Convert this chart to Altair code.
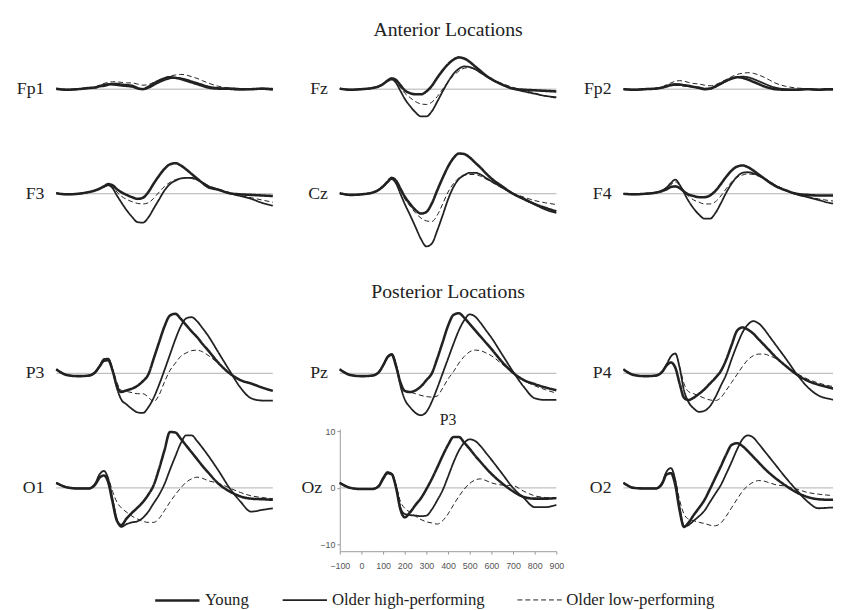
import altair as alt
import pandas as pd

# time points (ms)
T = [-100, -50, 0, 50, 80, 100, 120, 140, 160, 180, 200, 225, 250, 275, 300, 325,
     350, 375, 400, 425, 450, 475, 500, 525, 550, 575, 600, 650, 700, 750, 800, 850, 900]

GROUPS = ["Young", "Older high-performing", "Older low-performing"]

# ---- Anterior locations (µV) ----
FP1_Y = [0.1, -0.1, 0.0, 0.2, 0.3, 0.5, 0.6, 0.8, 0.9, 0.9, 0.8, 0.7, 0.6, 0.2, 0.0, 0.4, 1.0, 1.5, 1.9, 2.1, 2.0, 1.8, 1.5, 1.2, 0.9, 0.6, 0.3, 0.1, 0.1, 0.0, 0.0, 0.1, 0.0]
FP1_OH = [0.0, -0.1, 0.0, 0.2, 0.3, 0.6, 0.8, 0.9, 0.8, 0.7, 0.6, 0.5, 0.4, 0.1, 0.0, 0.2, 0.7, 1.2, 1.6, 1.9, 2.0, 1.9, 1.7, 1.4, 1.1, 0.8, 0.5, 0.2, 0.0, -0.1, 0.0, 0.0, -0.1]
FP1_OL = [0.0, -0.1, 0.1, 0.2, 0.4, 0.7, 1.0, 1.2, 1.3, 1.3, 1.2, 1.1, 1.1, 0.9, 0.7, 0.8, 1.2, 1.6, 2.0, 2.3, 2.5, 2.6, 2.5, 2.2, 1.9, 1.5, 1.1, 0.5, 0.2, 0.1, 0.0, 0.0, 0.1]

FZ_Y = [0.1, -0.1, 0.0, 0.2, 0.5, 0.9, 1.5, 1.9, 1.6, 0.7, -0.2, -0.7, -0.9, -0.9, -0.4, 0.6, 2.0, 3.3, 4.4, 5.2, 5.6, 5.4, 4.8, 4.0, 3.2, 2.4, 1.8, 0.8, 0.1, -0.1, -0.2, -0.3, -0.4]
FZ_OH = [0.1, -0.1, 0.0, 0.2, 0.5, 0.9, 1.4, 1.7, 1.1, -0.3, -1.7, -3.0, -4.1, -4.8, -4.8, -3.9, -2.2, -0.4, 1.3, 2.7, 3.6, 4.0, 3.9, 3.5, 2.9, 2.3, 1.7, 0.8, 0.1, -0.4, -0.8, -1.2, -1.4]
FZ_OL = [0.1, -0.1, 0.0, 0.2, 0.5, 0.9, 1.4, 1.7, 1.3, 0.3, -0.7, -1.5, -2.2, -2.6, -2.7, -2.3, -1.3, 0.0, 1.3, 2.4, 3.2, 3.7, 3.8, 3.5, 3.0, 2.4, 1.8, 1.0, 0.3, -0.2, -0.7, -1.2, -1.6]

FP2_Y = [0.0, -0.1, 0.0, 0.1, 0.3, 0.5, 0.7, 0.8, 0.8, 0.7, 0.6, 0.4, 0.2, 0.0, 0.1, 0.5, 1.0, 1.5, 1.9, 2.1, 2.0, 1.7, 1.3, 0.9, 0.5, 0.2, 0.0, -0.1, -0.1, 0.0, -0.1, 0.0, -0.1]
FP2_OH = [0.0, -0.1, 0.0, 0.1, 0.3, 0.6, 0.8, 0.9, 0.8, 0.6, 0.5, 0.4, 0.3, 0.1, 0.1, 0.4, 0.9, 1.4, 1.8, 2.1, 2.2, 2.1, 1.8, 1.4, 1.0, 0.6, 0.3, 0.0, -0.1, 0.0, -0.1, -0.1, 0.0]
FP2_OL = [0.0, -0.1, 0.1, 0.2, 0.4, 0.8, 1.1, 1.4, 1.5, 1.4, 1.2, 1.0, 0.9, 0.7, 0.6, 0.8, 1.2, 1.7, 2.2, 2.6, 2.8, 2.9, 2.8, 2.5, 2.1, 1.6, 1.1, 0.5, 0.2, 0.1, 0.0, 0.0, 0.0]

F3_Y = [0.1, -0.1, 0.0, 0.3, 0.6, 0.9, 1.3, 1.7, 1.5, 0.8, 0.3, -0.2, -0.6, -0.9, -0.7, 0.3, 1.8, 3.2, 4.4, 5.2, 5.4, 5.0, 4.3, 3.5, 2.7, 1.9, 1.2, 0.7, 0.1, -0.1, -0.2, -0.3, -0.4]
F3_OH = [0.1, -0.1, 0.0, 0.3, 0.6, 0.9, 1.2, 1.5, 1.0, -0.3, -1.5, -2.9, -4.1, -5.0, -5.1, -4.2, -2.6, -1.0, 0.6, 1.7, 2.3, 2.7, 2.8, 2.8, 2.5, 2.0, 1.4, 0.7, 0.1, -0.4, -0.9, -1.6, -2.1]
F3_OL = [0.1, -0.1, 0.0, 0.3, 0.6, 0.9, 1.2, 1.5, 1.2, 0.3, -0.4, -1.0, -1.4, -1.7, -1.8, -1.6, -0.8, 0.3, 1.3, 2.0, 2.5, 2.7, 2.8, 2.7, 2.4, 2.0, 1.5, 0.8, 0.2, -0.3, -0.7, -1.1, -1.5]

CZ_Y = [0.1, -0.2, -0.1, 0.2, 0.7, 1.3, 2.1, 2.8, 2.3, 0.9, -0.5, -1.8, -2.9, -3.5, -3.2, -1.7, 0.6, 2.8, 4.8, 6.3, 7.1, 7.0, 6.4, 5.5, 4.6, 3.6, 2.7, 1.3, 0.0, -0.9, -1.8, -2.5, -3.1]
CZ_OH = [0.1, -0.2, -0.1, 0.2, 0.7, 1.3, 2.0, 2.6, 1.8, 0.0, -1.8, -3.8, -5.9, -8.0, -9.3, -8.8, -6.5, -3.8, -1.0, 1.2, 2.6, 3.3, 3.7, 3.7, 3.4, 2.8, 2.2, 1.1, 0.0, -1.0, -1.9, -2.8, -3.4]
CZ_OL = [0.1, -0.2, -0.1, 0.2, 0.7, 1.3, 2.0, 2.6, 2.0, 0.6, -0.9, -2.2, -3.4, -4.3, -4.8, -4.9, -3.8, -1.8, 0.3, 1.8, 2.8, 3.3, 3.4, 3.4, 3.1, 2.6, 2.1, 1.0, 0.1, -0.6, -1.2, -1.6, -1.9]

F4_Y = [0.0, -0.1, 0.0, 0.2, 0.5, 0.8, 1.2, 1.3, 1.0, 0.4, -0.1, -0.4, -0.6, -0.6, -0.3, 0.5, 1.7, 3.0, 4.1, 4.8, 5.0, 4.7, 4.1, 3.4, 2.7, 2.0, 1.4, 0.6, 0.0, -0.2, -0.3, -0.3, -0.4]
F4_OH = [0.0, -0.1, 0.0, 0.2, 0.6, 1.1, 1.9, 2.5, 1.6, 0.2, -1.2, -2.6, -3.7, -4.4, -4.4, -3.4, -1.7, 0.2, 1.8, 3.0, 3.7, 3.8, 3.6, 3.2, 2.7, 2.1, 1.5, 0.6, -0.1, -0.6, -1.1, -1.6, -1.9]
F4_OL = [0.0, -0.1, 0.0, 0.2, 0.6, 1.0, 1.6, 2.1, 1.5, 0.5, -0.4, -1.1, -1.5, -1.8, -1.8, -1.4, -0.4, 0.9, 2.1, 2.9, 3.3, 3.5, 3.4, 3.1, 2.7, 2.2, 1.6, 0.7, 0.0, -0.5, -0.9, -1.2, -1.4]

# ---- Posterior locations (µV) ----
P3_Y = [0.7, -0.3, -0.5, -0.4, 0.2, 1.2, 2.2, 2.3, 0.5, -2.2, -3.3, -3.0, -2.7, -2.2, -1.4, -0.2, 2.6, 5.5, 8.3, 10.2, 10.5, 9.6, 8.5, 7.4, 6.4, 5.2, 4.1, 1.8, 0.0, -1.2, -1.8, -2.5, -3.1]
P3_OH = [0.7, -0.3, -0.5, -0.4, 0.2, 1.3, 2.5, 2.6, 0.6, -2.6, -4.6, -5.5, -6.3, -6.9, -7.0, -6.0, -4.3, -2.0, 0.6, 3.3, 6.0, 8.3, 9.7, 9.9, 9.2, 8.0, 6.7, 3.6, 0.5, -2.5, -4.4, -4.8, -4.8]
P3_OL = [0.7, -0.3, -0.5, -0.4, 0.2, 1.3, 2.5, 2.6, 0.8, -1.6, -3.0, -3.2, -3.4, -3.6, -3.6, -4.2, -5.0, -3.8, -1.5, 0.5, 1.8, 3.0, 3.6, 4.0, 4.1, 3.8, 3.2, 1.7, 0.0, -1.2, -1.9, -2.5, -3.0]

PZ_Y = [0.7, -0.3, -0.5, -0.4, 0.2, 1.4, 2.8, 3.3, 1.2, -1.6, -3.1, -3.3, -3.0, -2.3, -1.2, 0.0, 2.6, 5.5, 8.4, 10.3, 10.6, 9.8, 8.7, 7.6, 6.5, 5.4, 4.3, 2.0, 0.1, -1.2, -1.9, -2.5, -3.0]
PZ_OH = [0.7, -0.3, -0.5, -0.4, 0.2, 1.4, 2.9, 3.4, 1.5, -2.2, -4.6, -6.0, -7.0, -7.4, -6.8, -5.0, -2.6, 0.0, 2.6, 5.2, 7.6, 9.4, 10.4, 10.0, 8.9, 7.6, 6.3, 3.3, 0.3, -2.4, -4.4, -4.7, -4.7]
PZ_OL = [0.7, -0.3, -0.5, -0.4, 0.2, 1.4, 2.9, 3.4, 1.6, -1.4, -3.0, -3.3, -3.6, -3.9, -4.1, -4.2, -4.0, -2.6, -1.0, 0.3, 1.8, 3.0, 3.8, 4.1, 4.0, 3.6, 3.1, 1.6, 0.0, -1.3, -2.2, -2.9, -3.5]

P4_Y = [0.7, -0.3, -0.5, -0.4, 0.3, 1.4, 1.9, 1.0, -1.8, -4.3, -4.7, -4.3, -3.6, -2.8, -1.8, -0.8, 0.4, 2.4, 5.0, 7.5, 8.1, 7.7, 7.0, 6.0, 5.0, 4.0, 3.0, 1.3, -0.2, -1.3, -2.0, -2.5, -3.0]
P4_OH = [0.7, -0.3, -0.5, -0.4, 0.3, 1.6, 3.0, 3.5, 1.0, -3.0, -5.0, -6.2, -6.8, -6.6, -5.8, -4.2, -2.2, -0.2, 2.5, 5.0, 7.2, 8.6, 9.2, 8.8, 7.8, 6.5, 5.2, 2.6, -0.1, -2.4, -3.9, -4.5, -4.8]
P4_OL = [0.7, -0.3, -0.5, -0.4, 0.3, 1.6, 3.0, 3.5, 1.2, -1.8, -3.2, -3.6, -4.0, -4.4, -4.7, -4.8, -4.3, -3.0, -1.6, -0.2, 1.2, 2.4, 3.1, 3.4, 3.4, 3.1, 2.7, 1.4, 0.0, -1.0, -1.7, -2.2, -2.5]

O1_Y = [0.9, 0.1, -0.1, -0.1, 0.6, 1.8, 2.2, 1.0, -2.5, -5.8, -6.6, -5.4, -4.4, -3.5, -2.5, -1.2, 0.5, 3.4, 6.7, 9.9, 9.8, 8.7, 7.5, 6.3, 5.1, 3.9, 2.8, 0.7, -0.6, -1.5, -1.9, -2.0, -2.1]
O1_OH = [0.9, 0.1, -0.1, -0.1, 0.8, 2.4, 3.0, 1.6, -2.0, -5.6, -6.9, -6.4, -6.1, -5.9, -5.3, -4.2, -2.7, -1.2, 0.7, 3.2, 5.6, 7.9, 9.3, 9.3, 8.3, 7.1, 5.8, 3.0, 0.0, -2.4, -4.2, -3.9, -3.6]
O1_OL = [0.9, 0.1, -0.1, -0.1, 0.8, 2.4, 3.0, 1.8, -0.6, -2.5, -3.5, -4.3, -5.0, -5.5, -5.9, -6.1, -6.1, -5.4, -4.0, -2.5, -1.2, 0.0, 1.0, 1.6, 1.9, 1.7, 1.3, 0.8, 0.0, -0.8, -1.4, -1.7, -1.9]

OZ_Y = [0.9, 0.0, -0.2, -0.2, 0.3, 1.6, 2.6, 2.4, 0.0, -3.8, -5.2, -4.3, -3.0, -1.8, -0.2, 1.6, 3.6, 5.7, 7.6, 9.0, 9.0, 8.0, 6.9, 5.7, 4.6, 3.5, 2.5, 0.8, -0.6, -1.6, -1.9, -1.9, -1.8]
OZ_OH = [0.9, 0.0, -0.2, -0.2, 0.4, 1.8, 2.8, 2.5, 0.2, -3.5, -4.6, -4.8, -4.9, -5.0, -4.9, -3.8, -2.2, -0.4, 2.0, 4.5, 6.6, 8.0, 8.6, 8.3, 7.4, 6.2, 5.0, 2.5, 0.0, -1.8, -3.4, -3.4, -3.0]
OZ_OL = [0.9, 0.0, -0.2, -0.2, 0.4, 1.8, 2.8, 2.5, 0.5, -2.4, -3.6, -4.3, -5.0, -5.6, -6.0, -6.2, -6.4, -5.8, -4.6, -3.0, -1.5, -0.2, 0.8, 1.4, 1.6, 1.3, 0.9, 0.5, 0.4, -0.6, -1.4, -1.7, -1.8]

O2_Y = [0.9, 0.0, -0.1, -0.1, 0.8, 2.4, 2.6, 0.5, -4.0, -6.9, -6.2, -4.8, -3.5, -2.1, -0.2, 1.8, 3.8, 5.9, 7.6, 7.9, 7.4, 6.5, 5.5, 4.5, 3.5, 2.6, 1.8, 0.4, -0.8, -1.6, -2.0, -2.1, -2.1]
O2_OH = [0.9, 0.0, -0.1, -0.1, 1.0, 2.9, 3.5, 1.3, -3.5, -6.8, -6.6, -5.8, -5.0, -4.0, -2.5, -1.0, 0.5, 2.5, 4.6, 6.8, 8.6, 9.3, 8.9, 7.8, 6.6, 5.4, 4.2, 1.8, -0.4, -2.4, -3.6, -3.5, -3.4]
O2_OL = [0.9, 0.0, -0.1, -0.1, 1.0, 2.9, 3.5, 1.5, -2.2, -4.6, -5.5, -5.8, -6.1, -6.3, -6.6, -6.7, -6.2, -5.0, -3.5, -2.0, -0.6, 0.4, 1.0, 1.3, 1.2, 0.9, 0.6, 0.3, -0.2, -0.8, -1.1, -1.3, -1.4]

LAYOUT = [
    [("Fp1", FP1_Y, FP1_OH, FP1_OL), ("Fz", FZ_Y, FZ_OH, FZ_OL), ("Fp2", FP2_Y, FP2_OH, FP2_OL)],
    [("F3", F3_Y, F3_OH, F3_OL), ("Cz", CZ_Y, CZ_OH, CZ_OL), ("F4", F4_Y, F4_OH, F4_OL)],
    [("P3", P3_Y, P3_OH, P3_OL), ("Pz", PZ_Y, PZ_OH, PZ_OL), ("P4", P4_Y, P4_OH, P4_OL)],
    [("O1", O1_Y, O1_OH, O1_OL), ("Oz", OZ_Y, OZ_OH, OZ_OL), ("O2", O2_Y, O2_OH, O2_OL)],
]

PANEL_TITLES = {"Fz": ("Anterior Locations", 20, 3), "Pz": ("Posterior Locations", 20, 6), "Oz": ("P3", 16, 0)}

PX_PER_UV = 5.76
ROW_DOMAINS = [(-9.25, 8.1), (-20.7, 9.2), (-9.85, 11.0), (-11.2, 10.4)]
COL_DOMAINS = [(-100, 900), (-100, 900), (-100, 868)]
COL_WIDTHS = [220, 220, 213]

SERIF = "Liberation Serif"
SANS = "Liberation Sans"
INK = "#222222"

legend = alt.Legend(
    title=None, orient="none", legendX=99, legendY=542, direction="horizontal",
    symbolType="stroke", symbolSize=2025, symbolStrokeColor=INK,
    labelFont=SERIF, labelFontSize=17, labelColor=INK, labelOffset=4,
    columnPadding=30, padding=0,
)
width_scale = alt.Scale(domain=GROUPS, range=[2.6, 1.0, 1.2])
dash_scale = alt.Scale(domain=GROUPS, range=[[1, 0], [1, 0], [5, 3]])


def panel(row, col, name, y, oh, ol):
    lo, hi = ROW_DOMAINS[row]
    height = round((hi - lo) * PX_PER_UV)
    xs = alt.Scale(domain=list(COL_DOMAINS[col]), nice=False, zero=False)
    ys = alt.Scale(domain=[lo, hi], nice=False, zero=False)
    if name == "Oz":
        common = dict(grid=False, title=None, domainColor="#999999", tickColor="#999999",
                      tickSize=3, labelFont=SANS, labelFontSize=9, labelColor="#555555")
        xaxis = alt.Axis(values=list(range(-100, 1000, 100)), labelOverlap=False,
                         labelFlush=False, labelPadding=8, **common)
        yaxis = alt.Axis(values=[-10, 0, 10], labelPadding=2, **common)
        dx = -18
    else:
        xaxis = None
        yaxis = None
        dx = -12
    X = alt.X("t:Q", scale=xs, axis=xaxis)
    Y = alt.Y("v:Q", scale=ys, axis=yaxis)

    df = pd.DataFrame({
        "t": T * 3,
        "v": list(y) + list(oh) + list(ol),
        "group": [g for g in GROUPS for _ in T],
    })
    zero = alt.Chart(pd.DataFrame({"t": [COL_DOMAINS[col][0]], "v": [0.0]})).mark_rule(
        color="#b0b0b0", strokeWidth=1
    ).encode(y=Y)
    lines = alt.Chart(df).mark_line(
        interpolate="monotone", color=INK, clip=(col == 2)
    ).encode(
        x=X, y=Y,
        strokeWidth=alt.StrokeWidth("group:N", scale=width_scale, sort=GROUPS, legend=legend),
        strokeDash=alt.StrokeDash("group:N", scale=dash_scale, sort=GROUPS, legend=legend),
        detail="group:N",
    )
    label = alt.Chart(pd.DataFrame({"t": [COL_DOMAINS[col][0]], "v": [0.0], "name": [name]})).mark_text(
        align="right", baseline="middle", dx=dx, font=SERIF, fontSize=18, color=INK
    ).encode(x=X, y=Y, text="name:N")

    ch = alt.layer(zero, lines, label).properties(width=COL_WIDTHS[col], height=height)
    if name in PANEL_TITLES:
        txt, fs, off = PANEL_TITLES[name]
        ch = ch.properties(title=alt.TitleParams(
            txt, font=SERIF, fontSize=fs, fontWeight="normal", color=INK, offset=off, anchor="middle"))
    return ch


panels = []
for r, row in enumerate(LAYOUT):
    for c, spec in enumerate(row):
        panels.append(panel(r, c, *spec))

chart = alt.concat(
    *panels, columns=3, spacing={"row": 0, "column": 68}, bounds="flush", align="each"
).resolve_scale(
    x="independent", y="independent", strokeWidth="shared", strokeDash="shared"
).configure_view(stroke=None).properties(
    padding={"left": 8, "top": 8, "right": 0, "bottom": 0}
)

chart.save("out.html", embed_options={"renderer": "svg", "actions": False})
